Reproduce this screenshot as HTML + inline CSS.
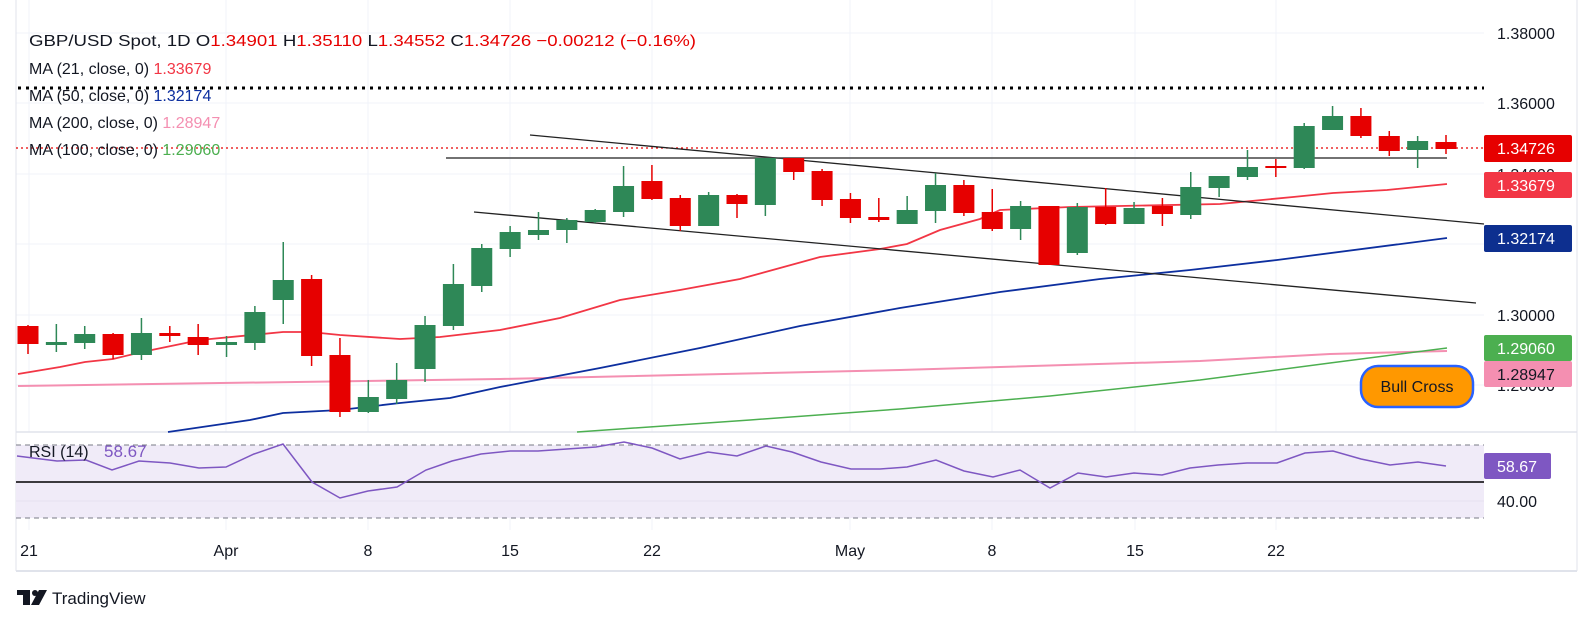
<!DOCTYPE html>
<html><head><meta charset="utf-8"><style>
html,body{margin:0;padding:0;background:#fff;}
svg{display:block;font-family:"Liberation Sans",sans-serif;}
</style></head><body>
<svg id="s" width="1593" height="626" viewBox="0 0 1593 626" xmlns="http://www.w3.org/2000/svg">
<rect width="1593" height="626" fill="#fff"/>
<g id="grid" stroke="#f0f3fa" stroke-width="1"></g>
<line x1="16" y1="0" x2="16" y2="571" stroke="#e0e3eb"/>
<line x1="1577" y1="0" x2="1577" y2="571" stroke="#e0e3eb"/>
<line x1="16" y1="571" x2="1577" y2="571" stroke="#e0e3eb" stroke-width="2"/>
<line x1="16" y1="432" x2="1577" y2="432" stroke="#e0e3eb" stroke-width="1.5"/>
<rect x="16" y="445" width="1468" height="73" fill="#f0ebf8"/>
<line x1="16" y1="445" x2="1484" y2="445" stroke="#787b86" stroke-dasharray="5,4"/>
<line x1="16" y1="518" x2="1484" y2="518" stroke="#787b86" stroke-dasharray="5,4"/>
<line x1="16" y1="501" x2="1484" y2="501" stroke="#e6e1ef"/>
<line x1="16" y1="482" x2="1484" y2="482" stroke="#000" stroke-width="1.5"/>
<polyline fill="none" stroke="#7e57c2" stroke-width="1.5" points="17,456 57,461 86,460 112,470 139,461 170,463 199,468 226,467 254,454 283,444 312,482 340,498 368,491 397,487 426,470 452,461 481,454 510,451 538,451 567,449 596,447 624,442 652,448 680,459 708,452 737,456 766,446 792,452 821,462 851,469 880,469 907,467 936,460 964,471 993,477 1020,470 1050,488 1078,473 1106,477 1134,473 1162,475 1190,468 1218,465 1247,463 1277,463 1305,453 1333,451 1361,459 1390,465 1418,462 1446,466"/>
<text x="29" y="457" font-size="16" fill="#131722">RSI (14)</text>
<text x="104" y="457" font-size="17" fill="#7e57c2">58.67</text>
<line x1="18" y1="88" x2="1484" y2="88" stroke="#000" stroke-width="3" stroke-dasharray="3,5"/>
<line x1="16" y1="148" x2="1484" y2="148" stroke="#e60000" stroke-width="1.3" stroke-dasharray="2,3"/>
<polyline fill="none" stroke="#f48fb1" stroke-width="2" points="18,386 500,379 900,370 1200,361 1330,354 1447,351"/>
<polyline fill="none" stroke="#4caf50" stroke-width="1.5" points="577,432 750,420 900,409 1050,396 1200,380 1330,363 1447,348"/>
<polyline fill="none" stroke="#0d2f9f" stroke-width="1.8" points="168,432 250,420 283,413 340,410 400,403 450,398 500,387 600,368 700,348 800,326 900,308 1000,292 1100,279 1190,270 1277,260 1447,238"/>
<polyline fill="none" stroke="#f23645" stroke-width="1.8" points="18,374 60,367 85,362 113,359 142,352 200,340 283,332 310,332 340,335 400,339 440,337 500,330 560,318 620,300 680,290 740,279 820,257 880,249 907,244 940,230 980,219 1000,210 1070,207 1220,204 1293,197 1333,193 1387,190 1447,184"/>
<line x1="530" y1="135" x2="1484" y2="224" stroke="#222" stroke-width="1.3"/>
<line x1="474" y1="212" x2="1476" y2="303" stroke="#222" stroke-width="1.3"/>
<line x1="446" y1="158" x2="1447" y2="158" stroke="#444" stroke-width="1.5"/>
<g id="candles"></g>
<g font-size="16" fill="#131722">
<text x="29" y="46" textLength="667" lengthAdjust="spacingAndGlyphs">GBP/USD Spot, 1D  O<tspan fill="#e60000">1.34901</tspan>  H<tspan fill="#e60000">1.35110</tspan>  L<tspan fill="#e60000">1.34552</tspan>  C<tspan fill="#e60000">1.34726</tspan>  <tspan fill="#e60000">−0.00212 (−0.16%)</tspan></text>
<text x="29" y="74">MA (21, close, 0)  <tspan fill="#f23645">1.33679</tspan></text>
<text x="29" y="101">MA (50, close, 0)  <tspan fill="#0d2f9f">1.32174</tspan></text>
<text x="29" y="128">MA (200, close, 0)  <tspan fill="#f48fb1">1.28947</tspan></text>
<text x="29" y="155">MA (100, close, 0)  <tspan fill="#4caf50">1.29060</tspan></text>
</g>
<g font-size="16" fill="#131722">
<text x="1497" y="39">1.38000</text>
<text x="1497" y="109">1.36000</text>
<text x="1497" y="180">1.34000</text>
<text x="1497" y="321">1.30000</text>
<text x="1497" y="391">1.28000</text>
<text x="1497" y="507">40.00</text>
</g>
<g font-size="16">
<rect x="1484" y="135" width="88" height="27" rx="2" fill="#e60000"/><text x="1497" y="154" fill="#fff">1.34726</text>
<rect x="1484" y="172" width="88" height="26" rx="2" fill="#f23645"/><text x="1497" y="191" fill="#fff">1.33679</text>
<rect x="1484" y="225" width="88" height="27" rx="2" fill="#0d2f8f"/><text x="1497" y="244" fill="#fff">1.32174</text>
<rect x="1484" y="335" width="88" height="26" rx="2" fill="#4caf50"/><text x="1497" y="354" fill="#fff">1.29060</text>
<rect x="1484" y="361" width="88" height="26" rx="2" fill="#f48fb1"/><text x="1497" y="380" fill="#131722">1.28947</text>
<rect x="1484" y="453" width="67" height="26" rx="2" fill="#7e57c2"/><text x="1497" y="472" fill="#fff">58.67</text>
</g>
<rect x="1361" y="366" width="112" height="41" rx="17" fill="#ff9800" stroke="#2962ff" stroke-width="2.5"/>
<text x="1417" y="392" font-size="16" text-anchor="middle" fill="#131722">Bull Cross</text>
<g font-size="16" fill="#131722" text-anchor="middle">
<text x="29" y="556">21</text><text x="226" y="556">Apr</text><text x="368" y="556">8</text>
<text x="510" y="556">15</text><text x="652" y="556">22</text><text x="850" y="556">May</text>
<text x="992" y="556">8</text><text x="1135" y="556">15</text><text x="1276" y="556">22</text>
</g>
<g fill="#131722">
<rect x="17" y="590" width="13" height="5"/><rect x="23" y="590" width="7" height="15"/>
<circle cx="35" cy="593" r="3"/><polygon points="39,590 47,590 39,605 31,605"/>
<text x="52" y="604" font-size="17">TradingView</text>
</g>
<script>
var ns="http://www.w3.org/2000/svg";
var g=document.getElementById('grid');
function L(x1,y1,x2,y2){var l=document.createElementNS(ns,'line');l.setAttribute('x1',x1);l.setAttribute('y1',y1);l.setAttribute('x2',x2);l.setAttribute('y2',y2);g.appendChild(l);}
[33,103,174,244,315,385].forEach(function(y){L(16,y,1484,y);});
[29,226,368,510,652,850,992,1135,1276].forEach(function(x){L(x,0,x,432);L(x,445,x,530);});
var d=[[326,344,325,354,'r'],[342,345,324,352,'g'],[334,343,326,349,'g'],[334,355,333,359,'r'],[333,355,318,360,'g'],[333,336,326,342,'r'],[337,345,324,355,'r'],[342,345,336,357,'g'],[312,343,306,350,'g'],[280,300,242,324,'g'],[279,356,275,366,'r'],[355,412,338,417,'r'],[397,412,380,413,'g'],[380,399,363,404,'g'],[325,369,316,382,'g'],[284,326,264,330,'g'],[248,286,244,292,'g'],[232,249,226,257,'g'],[230,235,212,240,'g'],[220,230,218,243,'g'],[210,222,209,223,'g'],[186,212,166,217,'g'],[181,199,165,200,'r'],[198,226,195,231,'r'],[195,226,192,226,'g'],[195,204,194,218,'r'],[158,205,158,216,'g'],[158,172,158,180,'r'],[171,200,169,206,'r'],[199,218,193,223,'r'],[217,220,198,222,'r'],[210,224,196,224,'g'],[185,211,173,223,'g'],[185,213,180,216,'r'],[212,229,189,231,'r'],[206,229,201,240,'g'],[206,265,206,265,'r'],[207,253,203,255,'g'],[207,224,188,225,'r'],[208,224,202,224,'g'],[206,214,198,226,'r'],[187,215,172,219,'g'],[176,188,176,197,'g'],[167,177,150,180,'g'],[166,168,159,177,'r'],[126,168,123,169,'g'],[116,130,106,130,'g'],[116,136,108,138,'r'],[136,151,131,156,'r'],[141,150,136,168,'g'],[142,149,135,154,'r']];
var c=document.getElementById('candles');
d.forEach(function(k,i){var x=28+i*28.36;var col=k[4]=='r'?'#e60000':'#2e8857';
var w=document.createElementNS(ns,'line');w.setAttribute('x1',x);w.setAttribute('x2',x);w.setAttribute('y1',k[2]);w.setAttribute('y2',k[3]);w.setAttribute('stroke',col);w.setAttribute('stroke-width','1.5');c.appendChild(w);
var r=document.createElementNS(ns,'rect');r.setAttribute('x',x-10.5);r.setAttribute('width',21);r.setAttribute('y',k[0]);r.setAttribute('height',Math.max(2,k[1]-k[0]));r.setAttribute('fill',col);c.appendChild(r);});
</script>
</svg>
</body></html>
